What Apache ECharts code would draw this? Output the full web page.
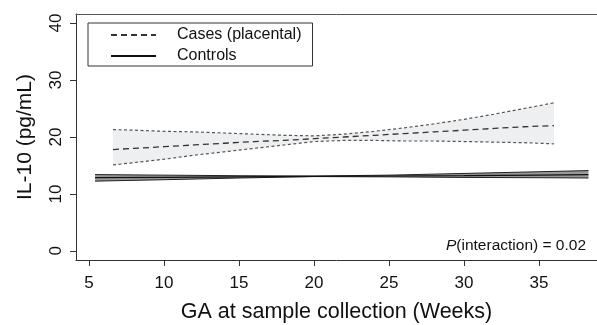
<!DOCTYPE html>
<html>
<head>
<meta charset="utf-8">
<script src="https://cdn.jsdelivr.net/npm/echarts@6/dist/echarts.min.js"></script>
<style>html,body{margin:0;padding:0;background:#fff}#c{width:597px;height:325px}</style>
</head>
<body>
<div id="c"></div>
<script>
// Cases (placental): fitted line and confidence limits
var casesX     = [6.6, 8, 10, 12, 14, 16, 18, 20, 22, 24, 26, 28, 30, 32, 34, 36];
var casesMid   = [17.8, 18.0, 18.3, 18.6, 18.9, 19.2, 19.4, 19.7, 20.0, 20.3, 20.6, 20.9, 21.2, 21.5, 21.8, 22.0];
var casesUpper = [21.3, 21.2, 21.0, 20.9, 20.7, 20.5, 20.3, 20.2, 20.5, 21.0, 21.6, 22.3, 23.1, 24.0, 25.0, 26.0];
var casesLower = [15.1, 15.5, 16.1, 16.8, 17.4, 18.0, 18.6, 19.2, 19.4, 19.4, 19.3, 19.3, 19.2, 19.1, 19.0, 18.8];
// Controls
var ctrlX     = [5.4, 10, 15, 20, 25, 30, 35, 38.3];
var ctrlMid   = [12.85, 12.9, 13.0, 13.1, 13.15, 13.2, 13.3, 13.4];
var ctrlUpper = [13.4, 13.3, 13.2, 13.15, 13.3, 13.6, 13.9, 14.1];
var ctrlLower = [12.25, 12.5, 12.8, 13.05, 13.0, 12.9, 12.85, 12.8];
// Axis ticks
var xTicks = [5, 10, 15, 20, 25, 30, 35];
var yTicks = [0, 10, 20, 30, 40];

function pairs(xs, ys) { return xs.map(function (x, i) { return [x, ys[i]]; }); }
function bandRows(xs, lo, hi) { return xs.map(function (x, i) { return [x, lo[i], hi[i]]; }); }

function bandSeries(rows, color) {
  return {
    type: 'custom', silent: true, z: 1,
    data: rows,
    encode: { x: 0, y: [1, 2] },
    renderItem: function (params, api) {
      if (params.dataIndex !== 0) return null;
      var top = [], bottom = [];
      for (var i = 0; i < rows.length; i++) {
        top.push(api.coord([rows[i][0], rows[i][2]]));
        bottom.push(api.coord([rows[i][0], rows[i][1]]));
      }
      var pts = top.concat(bottom.reverse());
      return { type: 'polygon', shape: { points: pts }, style: { fill: color, stroke: null } };
    }
  };
}

var FONT = 'Liberation Sans, Arial, sans-serif';
var chart = echarts.init(document.getElementById('c'), null, { renderer: 'canvas' });
chart.setOption({
  animation: false,
  backgroundColor: '#fff',
  color: ['#333', '#111'],
  textStyle: { fontFamily: FONT },
  grid: { left: 76, top: 14, right: 0, bottom: 65, containLabel: false, outerBoundsMode: 'none' },
  legend: {
    left: 88, top: 23, orient: 'vertical',
    data: ['Cases (placental)', 'Controls'],
    itemWidth: 45, itemHeight: 14, itemGap: 5,
    padding: [4, 11, 2, 22],
    borderColor: '#333', borderWidth: 1, borderRadius: 0,
    itemStyle: { opacity: 0 },
    textStyle: { fontSize: 16, color: '#111', fontFamily: FONT, padding: [0, 0, 0, 16] },
    selectedMode: false
  },
  xAxis: [{
    type: 'value', min: 4.13, max: 38.87,
    name: 'GA at sample collection (Weeks)', nameLocation: 'middle', nameGap: 41,
    nameTextStyle: { fontSize: 21.5, color: '#111', fontFamily: FONT },
    axisLine: { onZero: false, lineStyle: { color: '#333', width: 1 } },
    axisTick: { show: true, length: 6, customValues: xTicks, lineStyle: { color: '#333' } },
    axisLabel: { customValues: xTicks, fontSize: 17, color: '#111', margin: 15, fontFamily: FONT },
    splitLine: { show: false }
  }, {
    type: 'value', position: 'top', min: 4.13, max: 38.87,
    axisLine: { show: true, onZero: false, lineStyle: { color: '#555', width: 1 } },
    axisTick: { show: false }, axisLabel: { show: false }, splitLine: { show: false }
  }],
  yAxis: {
    type: 'value', min: -1.6, max: 41.6,
    name: 'IL-10 (pg/mL)', nameLocation: 'middle', nameGap: 40,
    nameTextStyle: { fontSize: 21, color: '#111', fontFamily: FONT },
    axisLine: { show: true, onZero: false, lineStyle: { color: '#333', width: 1 } },
    axisTick: { show: true, length: 6, customValues: yTicks, lineStyle: { color: '#333' } },
    axisLabel: { customValues: yTicks, fontSize: 17, color: '#111', rotate: 90, margin: 11, fontFamily: FONT },
    splitLine: { show: false }
  },
  series: [
    bandSeries(bandRows(casesX, casesLower, casesUpper), '#eeeff1'),
    bandSeries(bandRows(ctrlX, ctrlLower, ctrlUpper), '#999'),
    { name: 'casesUpper', type: 'line', data: pairs(casesX, casesUpper), symbol: 'none', z: 3,
      lineStyle: { color: '#555', width: 1.2, type: [3, 2.5] } },
    { name: 'casesLower', type: 'line', data: pairs(casesX, casesLower), symbol: 'none', z: 3,
      lineStyle: { color: '#555', width: 1.2, type: [3, 2.5] } },
    { name: 'Cases (placental)', type: 'line', data: pairs(casesX, casesMid), symbol: 'none', z: 3,
      itemStyle: { color: '#333' },
      lineStyle: { color: '#333', width: 1.3, type: [6, 4] } },
    { name: 'ctrlUpper', type: 'line', data: pairs(ctrlX, ctrlUpper), symbol: 'none', z: 3,
      lineStyle: { color: '#222', width: 1 } },
    { name: 'ctrlLower', type: 'line', data: pairs(ctrlX, ctrlLower), symbol: 'none', z: 3,
      lineStyle: { color: '#222', width: 1 } },
    { name: 'Controls', type: 'line', data: pairs(ctrlX, ctrlMid), symbol: 'none', z: 3,
      itemStyle: { color: '#111' },
      lineStyle: { color: '#111', width: 1.2 } }
  ],
  graphic: [{
    type: 'text', right: 11, top: 238, z: 10,
    style: {
      text: '{i|P}(interaction) = 0.02',
      font: '15.5px ' + FONT, fill: '#111',
      rich: { i: { fontStyle: 'italic', fontSize: 15.5, fontFamily: FONT, fill: '#111' } }
    }
  }]
});
</script>
</body>
</html>
